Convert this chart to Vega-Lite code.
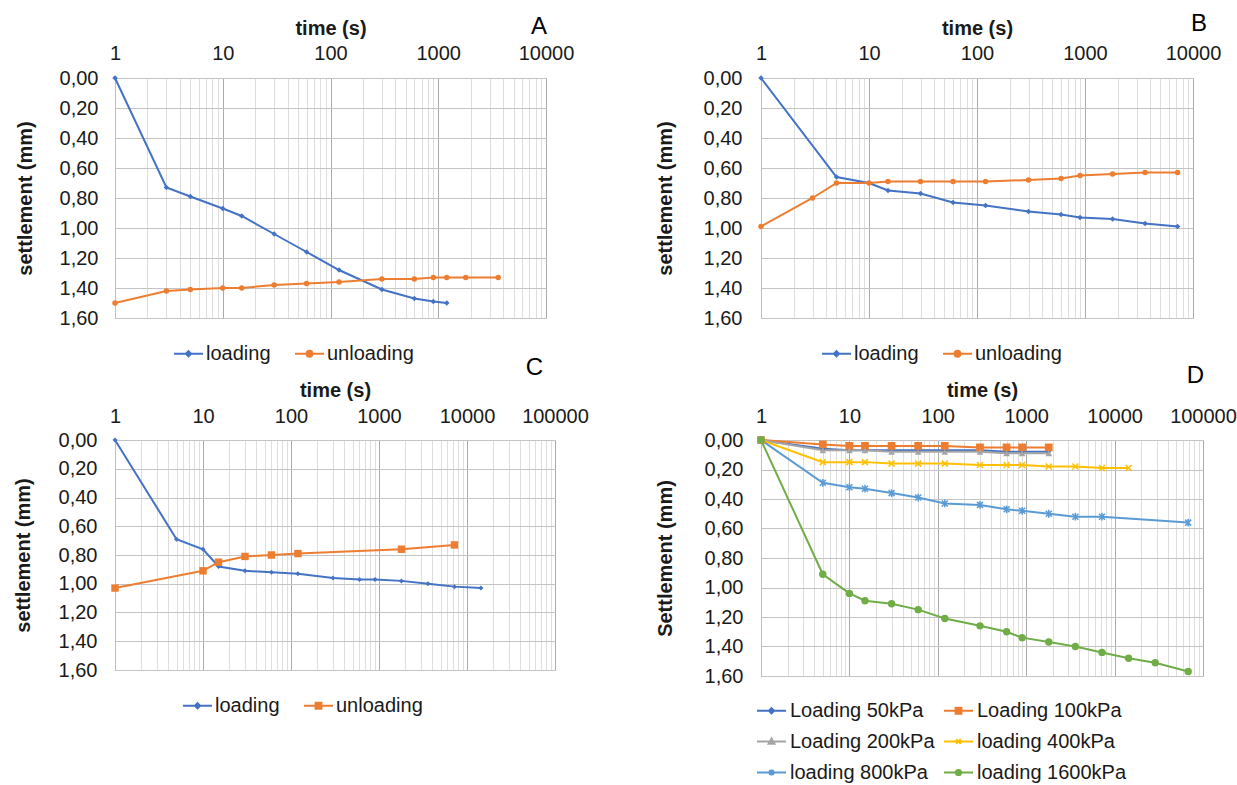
{
  "$schema": "https://vega.github.io/schema/vega-lite/v6.json",
  "padding": {"left": 12, "top": 11, "right": 0, "bottom": 0},
  "background": "white",
  "config": {
    "font": "Liberation Sans",
    "view": {"stroke": "#d9d9d9"},
    "axis": {"labelFontSize": 20, "titleFontSize": 20, "titleFontWeight": "bold", "labelColor": "#1a1a1a", "titleColor": "#1a1a1a", "ticks": false, "domainColor": "#bfbfbf", "labelFont": "Liberation Sans", "titleFont": "Liberation Sans"},
    "legend": {"labelFontSize": 20, "labelFont": "Liberation Sans", "labelColor": "#1a1a1a", "padding": 0, "labelLimit": 300},
    "title": {"font": "Liberation Sans", "fontSize": 24, "fontWeight": "normal", "color": "#000", "anchor": "end", "baseline": "alphabetic", "frame": "group"}
  },
  "columns": 2,
  "spacing": {"row": 122, "column": 204},
  "bounds": "flush",
  "align": "all",
  "resolve": {"scale": {"color": "independent", "x": "independent", "y": "independent"}, "legend": {"color": "independent"}},
  "concat": [
    {
      "width": 431, "height": 240,
      "title": {"text": "A", "offset": -21, "dx": 1},
      "data": {"values": [
        {"t": 1, "s": 0.00, "series": "loading"}, {"t": 3, "s": 0.73, "series": "loading"}, {"t": 5, "s": 0.79, "series": "loading"}, {"t": 10, "s": 0.87, "series": "loading"}, {"t": 15, "s": 0.92, "series": "loading"}, {"t": 30, "s": 1.04, "series": "loading"}, {"t": 60, "s": 1.16, "series": "loading"}, {"t": 120, "s": 1.28, "series": "loading"}, {"t": 300, "s": 1.41, "series": "loading"}, {"t": 600, "s": 1.47, "series": "loading"}, {"t": 900, "s": 1.49, "series": "loading"}, {"t": 1200, "s": 1.50, "series": "loading"},
        {"t": 1, "s": 1.50, "series": "unloading"}, {"t": 3, "s": 1.42, "series": "unloading"}, {"t": 5, "s": 1.41, "series": "unloading"}, {"t": 10, "s": 1.40, "series": "unloading"}, {"t": 15, "s": 1.40, "series": "unloading"}, {"t": 30, "s": 1.38, "series": "unloading"}, {"t": 60, "s": 1.37, "series": "unloading"}, {"t": 120, "s": 1.36, "series": "unloading"}, {"t": 300, "s": 1.34, "series": "unloading"}, {"t": 600, "s": 1.34, "series": "unloading"}, {"t": 900, "s": 1.33, "series": "unloading"}, {"t": 1200, "s": 1.33, "series": "unloading"}, {"t": 1800, "s": 1.33, "series": "unloading"}, {"t": 3600, "s": 1.33, "series": "unloading"}
      ]},
      "encoding": {
        "x": {"field": "t", "type": "quantitative", "scale": {"type": "log", "domain": [1, 10000]},
          "axis": {"orient": "top", "title": "time (s)", "values": [1,2,3,4,5,6,7,8,9,10,20,30,40,50,60,70,80,90,100,200,300,400,500,600,700,800,900,1000,2000,3000,4000,5000,6000,7000,8000,9000,10000],
            "labelExpr": "indexof([1,10,100,1000,10000,100000], datum.value) >= 0 ? format(datum.value, 'd') : ''", "labelOverlap": false, "labelFlush": false, "labelPadding": 15, "titlePadding": 5, "domain": false, "grid": true,
            "gridColor": {"condition": {"test": "indexof([1,10,100,1000,10000,100000], datum.value) >= 0", "value": "#ababab"}, "value": "#dedede"}}},
        "y": {"field": "s", "type": "quantitative", "scale": {"domain": [0, 1.6], "reverse": true, "nice": false},
          "axis": {"title": "settlement (mm)", "values": [0,0.2,0.4,0.6,0.8,1,1.2,1.4,1.6], "labelExpr": "replace(format(datum.value, '.2f'), '.', ',')", "labelPadding": 17, "titlePadding": 24, "grid": true, "gridColor": "#c4c4c4"}}
      },
      "layer": [
        {"mark": {"type": "line", "strokeWidth": 2},
          "encoding": {"color": {"field": "series", "type": "nominal", "scale": {"domain": ["loading", "unloading"], "range": ["#4472C4", "#ED7D31"]},
            "legend": {"orient": "none", "legendX": 58, "legendY": 260, "direction": "horizontal", "title": null, "symbolSize": 841, "columnPadding": 20, "labelOffset": 2,
              "encode": {"symbols": {"update": {
                "shape": {"signal": "datum.value == 'loading' ? 'M-1,0H1M0,-0.18L0.18,0L0,0.18L-0.18,0Z' : 'M-1,0H1M0.2,0A0.2,0.2 0 1,1 -0.2,0A0.2,0.2 0 1,1 0.2,0Z'"},
                "fill": {"signal": "datum.value == 'loading' ? '#4472C4' : '#ED7D31'"},
                "stroke": {"signal": "datum.value == 'loading' ? '#4472C4' : '#ED7D31'"},
                "strokeWidth": {"value": 2}, "opacity": {"value": 1}, "size": {"value": 841}}}}}}}},
        {"transform": [{"filter": "datum.series == 'loading'"}], "mark": {"type": "point", "shape": "diamond", "filled": true, "opacity": 1, "size": 30, "color": "#4472C4"}},
        {"transform": [{"filter": "datum.series == 'unloading'"}], "mark": {"type": "point", "shape": "circle", "filled": true, "opacity": 1, "size": 30, "color": "#ED7D31"}}
      ]
    },
    {
      "width": 432, "height": 240,
      "title": {"text": "B", "offset": -18, "dx": 14},
      "data": {"values": [
        {"t": 1, "s": 0.00, "series": "loading"}, {"t": 5, "s": 0.66, "series": "loading"}, {"t": 10, "s": 0.70, "series": "loading"}, {"t": 15, "s": 0.75, "series": "loading"}, {"t": 30, "s": 0.77, "series": "loading"}, {"t": 60, "s": 0.83, "series": "loading"}, {"t": 120, "s": 0.85, "series": "loading"}, {"t": 300, "s": 0.89, "series": "loading"}, {"t": 600, "s": 0.91, "series": "loading"}, {"t": 900, "s": 0.93, "series": "loading"}, {"t": 1800, "s": 0.94, "series": "loading"}, {"t": 3600, "s": 0.97, "series": "loading"}, {"t": 7200, "s": 0.99, "series": "loading"},
        {"t": 1, "s": 0.99, "series": "unloading"}, {"t": 3, "s": 0.80, "series": "unloading"}, {"t": 5, "s": 0.70, "series": "unloading"}, {"t": 10, "s": 0.70, "series": "unloading"}, {"t": 15, "s": 0.69, "series": "unloading"}, {"t": 30, "s": 0.69, "series": "unloading"}, {"t": 60, "s": 0.69, "series": "unloading"}, {"t": 120, "s": 0.69, "series": "unloading"}, {"t": 300, "s": 0.68, "series": "unloading"}, {"t": 600, "s": 0.67, "series": "unloading"}, {"t": 900, "s": 0.65, "series": "unloading"}, {"t": 1800, "s": 0.64, "series": "unloading"}, {"t": 3600, "s": 0.63, "series": "unloading"}, {"t": 7200, "s": 0.63, "series": "unloading"}
      ]},
      "encoding": {
        "x": {"field": "t", "type": "quantitative", "scale": {"type": "log", "domain": [1, 10000]},
          "axis": {"orient": "top", "title": "time (s)", "values": [1,2,3,4,5,6,7,8,9,10,20,30,40,50,60,70,80,90,100,200,300,400,500,600,700,800,900,1000,2000,3000,4000,5000,6000,7000,8000,9000,10000],
            "labelExpr": "indexof([1,10,100,1000,10000,100000], datum.value) >= 0 ? format(datum.value, 'd') : ''", "labelOverlap": false, "labelFlush": false, "labelPadding": 15, "titlePadding": 5, "domain": false, "grid": true,
            "gridColor": {"condition": {"test": "indexof([1,10,100,1000,10000,100000], datum.value) >= 0", "value": "#ababab"}, "value": "#dedede"}}},
        "y": {"field": "s", "type": "quantitative", "scale": {"domain": [0, 1.6], "reverse": true, "nice": false},
          "axis": {"title": "settlement (mm)", "values": [0,0.2,0.4,0.6,0.8,1,1.2,1.4,1.6], "labelExpr": "replace(format(datum.value, '.2f'), '.', ',')", "labelPadding": 19, "titlePadding": 28, "grid": true, "gridColor": "#c4c4c4"}}
      },
      "layer": [
        {"mark": {"type": "line", "strokeWidth": 2},
          "encoding": {"color": {"field": "series", "type": "nominal", "scale": {"domain": ["loading", "unloading"], "range": ["#4472C4", "#ED7D31"]},
            "legend": {"orient": "none", "legendX": 60, "legendY": 260, "direction": "horizontal", "title": null, "symbolSize": 841, "columnPadding": 20, "labelOffset": 2,
              "encode": {"symbols": {"update": {
                "shape": {"signal": "datum.value == 'loading' ? 'M-1,0H1M0,-0.18L0.18,0L0,0.18L-0.18,0Z' : 'M-1,0H1M0.2,0A0.2,0.2 0 1,1 -0.2,0A0.2,0.2 0 1,1 0.2,0Z'"},
                "fill": {"signal": "datum.value == 'loading' ? '#4472C4' : '#ED7D31'"},
                "stroke": {"signal": "datum.value == 'loading' ? '#4472C4' : '#ED7D31'"},
                "strokeWidth": {"value": 2}, "opacity": {"value": 1}, "size": {"value": 841}}}}}}}},
        {"transform": [{"filter": "datum.series == 'loading'"}], "mark": {"type": "point", "shape": "diamond", "filled": true, "opacity": 1, "size": 30, "color": "#4472C4"}},
        {"transform": [{"filter": "datum.series == 'unloading'"}], "mark": {"type": "point", "shape": "circle", "filled": true, "opacity": 1, "size": 30, "color": "#ED7D31"}}
      ]
    },
    {
      "width": 440, "height": 230,
      "title": {"text": "C", "offset": 0, "dx": -12},
      "data": {"values": [
        {"t": 1, "s": 0.00, "series": "loading"}, {"t": 5, "s": 0.69, "series": "loading"}, {"t": 10, "s": 0.76, "series": "loading"}, {"t": 15, "s": 0.88, "series": "loading"}, {"t": 30, "s": 0.91, "series": "loading"}, {"t": 60, "s": 0.92, "series": "loading"}, {"t": 120, "s": 0.93, "series": "loading"}, {"t": 300, "s": 0.96, "series": "loading"}, {"t": 600, "s": 0.97, "series": "loading"}, {"t": 900, "s": 0.97, "series": "loading"}, {"t": 1800, "s": 0.98, "series": "loading"}, {"t": 3600, "s": 1.00, "series": "loading"}, {"t": 7200, "s": 1.02, "series": "loading"}, {"t": 14400, "s": 1.03, "series": "loading"},
        {"t": 1, "s": 1.03, "series": "unloading"}, {"t": 10, "s": 0.91, "series": "unloading"}, {"t": 15, "s": 0.85, "series": "unloading"}, {"t": 30, "s": 0.81, "series": "unloading"}, {"t": 60, "s": 0.80, "series": "unloading"}, {"t": 120, "s": 0.79, "series": "unloading"}, {"t": 1800, "s": 0.76, "series": "unloading"}, {"t": 7200, "s": 0.73, "series": "unloading"}
      ]},
      "encoding": {
        "x": {"field": "t", "type": "quantitative", "scale": {"type": "log", "domain": [1, 100000]},
          "axis": {"orient": "top", "title": "time (s)", "values": [1,2,3,4,5,6,7,8,9,10,20,30,40,50,60,70,80,90,100,200,300,400,500,600,700,800,900,1000,2000,3000,4000,5000,6000,7000,8000,9000,10000,20000,30000,40000,50000,60000,70000,80000,90000,100000],
            "labelExpr": "indexof([1,10,100,1000,10000,100000], datum.value) >= 0 ? format(datum.value, 'd') : ''", "labelOverlap": false, "labelFlush": false, "labelPadding": 14, "titlePadding": 6, "domain": false, "grid": true,
            "gridColor": {"condition": {"test": "indexof([1,10,100,1000,10000,100000], datum.value) >= 0", "value": "#ababab"}, "value": "#dedede"}}},
        "y": {"field": "s", "type": "quantitative", "scale": {"domain": [0, 1.6], "reverse": true, "nice": false},
          "axis": {"title": "settlement (mm)", "values": [0,0.2,0.4,0.6,0.8,1,1.2,1.4,1.6], "labelExpr": "replace(format(datum.value, '.2f'), '.', ',')", "labelPadding": 18, "titlePadding": 25, "grid": true, "gridColor": "#c4c4c4"}}
      },
      "layer": [
        {"mark": {"type": "line", "strokeWidth": 2},
          "encoding": {"color": {"field": "series", "type": "nominal", "scale": {"domain": ["loading", "unloading"], "range": ["#4472C4", "#ED7D31"]},
            "legend": {"orient": "none", "legendX": 67, "legendY": 250, "direction": "horizontal", "title": null, "symbolSize": 841, "columnPadding": 20, "labelOffset": 2,
              "encode": {"symbols": {"update": {
                "shape": {"signal": "datum.value == 'loading' ? 'M-1,0H1M0,-0.18L0.18,0L0,0.18L-0.18,0Z' : 'M-1,0H1M-0.2,-0.2H0.2V0.2H-0.2Z'"},
                "fill": {"signal": "datum.value == 'loading' ? '#4472C4' : '#ED7D31'"},
                "stroke": {"signal": "datum.value == 'loading' ? '#4472C4' : '#ED7D31'"},
                "strokeWidth": {"value": 2}, "opacity": {"value": 1}, "size": {"value": 841}}}}}}}},
        {"transform": [{"filter": "datum.series == 'loading'"}], "mark": {"type": "point", "shape": "diamond", "filled": true, "opacity": 1, "size": 25, "color": "#4472C4"}},
        {"transform": [{"filter": "datum.series == 'unloading'"}], "mark": {"type": "point", "shape": "square", "filled": true, "opacity": 1, "size": 55, "color": "#ED7D31"}}
      ]
    },
    {
      "width": 442, "height": 236,
      "title": {"text": "D", "offset": -8, "dx": 1},
      "data": {"values": [
        {"t": 1, "s": 0, "series": "Loading 50kPa"}, {"t": 5, "s": 0.06, "series": "Loading 50kPa"}, {"t": 10, "s": 0.07, "series": "Loading 50kPa"}, {"t": 15, "s": 0.07, "series": "Loading 50kPa"}, {"t": 30, "s": 0.07, "series": "Loading 50kPa"}, {"t": 60, "s": 0.07, "series": "Loading 50kPa"}, {"t": 120, "s": 0.07, "series": "Loading 50kPa"}, {"t": 300, "s": 0.07, "series": "Loading 50kPa"}, {"t": 600, "s": 0.08, "series": "Loading 50kPa"}, {"t": 900, "s": 0.08, "series": "Loading 50kPa"}, {"t": 1800, "s": 0.08, "series": "Loading 50kPa"},
        {"t": 1, "s": 0, "series": "Loading 100kPa"}, {"t": 5, "s": 0.03, "series": "Loading 100kPa"}, {"t": 10, "s": 0.04, "series": "Loading 100kPa"}, {"t": 15, "s": 0.04, "series": "Loading 100kPa"}, {"t": 30, "s": 0.04, "series": "Loading 100kPa"}, {"t": 60, "s": 0.04, "series": "Loading 100kPa"}, {"t": 120, "s": 0.04, "series": "Loading 100kPa"}, {"t": 300, "s": 0.05, "series": "Loading 100kPa"}, {"t": 600, "s": 0.05, "series": "Loading 100kPa"}, {"t": 900, "s": 0.05, "series": "Loading 100kPa"}, {"t": 1800, "s": 0.05, "series": "Loading 100kPa"},
        {"t": 1, "s": 0, "series": "Loading 200kPa"}, {"t": 5, "s": 0.07, "series": "Loading 200kPa"}, {"t": 10, "s": 0.07, "series": "Loading 200kPa"}, {"t": 15, "s": 0.07, "series": "Loading 200kPa"}, {"t": 30, "s": 0.08, "series": "Loading 200kPa"}, {"t": 60, "s": 0.08, "series": "Loading 200kPa"}, {"t": 120, "s": 0.08, "series": "Loading 200kPa"}, {"t": 300, "s": 0.08, "series": "Loading 200kPa"}, {"t": 600, "s": 0.09, "series": "Loading 200kPa"}, {"t": 900, "s": 0.09, "series": "Loading 200kPa"}, {"t": 1800, "s": 0.09, "series": "Loading 200kPa"},
        {"t": 1, "s": 0, "series": "loading 400kPa"}, {"t": 5, "s": 0.15, "series": "loading 400kPa"}, {"t": 10, "s": 0.15, "series": "loading 400kPa"}, {"t": 15, "s": 0.15, "series": "loading 400kPa"}, {"t": 30, "s": 0.16, "series": "loading 400kPa"}, {"t": 60, "s": 0.16, "series": "loading 400kPa"}, {"t": 120, "s": 0.16, "series": "loading 400kPa"}, {"t": 300, "s": 0.17, "series": "loading 400kPa"}, {"t": 600, "s": 0.17, "series": "loading 400kPa"}, {"t": 900, "s": 0.17, "series": "loading 400kPa"}, {"t": 1800, "s": 0.18, "series": "loading 400kPa"}, {"t": 3600, "s": 0.18, "series": "loading 400kPa"}, {"t": 7200, "s": 0.19, "series": "loading 400kPa"}, {"t": 14400, "s": 0.19, "series": "loading 400kPa"},
        {"t": 1, "s": 0, "series": "loading 800kPa"}, {"t": 5, "s": 0.29, "series": "loading 800kPa"}, {"t": 10, "s": 0.32, "series": "loading 800kPa"}, {"t": 15, "s": 0.33, "series": "loading 800kPa"}, {"t": 30, "s": 0.36, "series": "loading 800kPa"}, {"t": 60, "s": 0.39, "series": "loading 800kPa"}, {"t": 120, "s": 0.43, "series": "loading 800kPa"}, {"t": 300, "s": 0.44, "series": "loading 800kPa"}, {"t": 600, "s": 0.47, "series": "loading 800kPa"}, {"t": 900, "s": 0.48, "series": "loading 800kPa"}, {"t": 1800, "s": 0.50, "series": "loading 800kPa"}, {"t": 3600, "s": 0.52, "series": "loading 800kPa"}, {"t": 7200, "s": 0.52, "series": "loading 800kPa"}, {"t": 68000, "s": 0.56, "series": "loading 800kPa"},
        {"t": 1, "s": 0, "series": "loading 1600kPa"}, {"t": 5, "s": 0.91, "series": "loading 1600kPa"}, {"t": 10, "s": 1.04, "series": "loading 1600kPa"}, {"t": 15, "s": 1.09, "series": "loading 1600kPa"}, {"t": 30, "s": 1.11, "series": "loading 1600kPa"}, {"t": 60, "s": 1.15, "series": "loading 1600kPa"}, {"t": 120, "s": 1.21, "series": "loading 1600kPa"}, {"t": 300, "s": 1.26, "series": "loading 1600kPa"}, {"t": 600, "s": 1.30, "series": "loading 1600kPa"}, {"t": 900, "s": 1.34, "series": "loading 1600kPa"}, {"t": 1800, "s": 1.37, "series": "loading 1600kPa"}, {"t": 3600, "s": 1.40, "series": "loading 1600kPa"}, {"t": 7200, "s": 1.44, "series": "loading 1600kPa"}, {"t": 14400, "s": 1.48, "series": "loading 1600kPa"}, {"t": 28800, "s": 1.51, "series": "loading 1600kPa"}, {"t": 68000, "s": 1.57, "series": "loading 1600kPa"}
      ]},
      "encoding": {
        "x": {"field": "t", "type": "quantitative", "scale": {"type": "log", "domain": [1, 100000]},
          "axis": {"orient": "top", "title": "time (s)", "values": [1,2,3,4,5,6,7,8,9,10,20,30,40,50,60,70,80,90,100,200,300,400,500,600,700,800,900,1000,2000,3000,4000,5000,6000,7000,8000,9000,10000,20000,30000,40000,50000,60000,70000,80000,90000,100000],
            "labelExpr": "indexof([1,10,100,1000,10000,100000], datum.value) >= 0 ? format(datum.value, 'd') : ''", "labelOverlap": false, "labelFlush": false, "labelPadding": 14, "titlePadding": 6, "domain": false, "grid": true,
            "gridColor": {"condition": {"test": "indexof([1,10,100,1000,10000,100000], datum.value) >= 0", "value": "#ababab"}, "value": "#dedede"}}},
        "y": {"field": "s", "type": "quantitative", "scale": {"domain": [0, 1.6], "reverse": true, "nice": false},
          "axis": {"title": "Settlement (mm)", "values": [0,0.2,0.4,0.6,0.8,1,1.2,1.4,1.6], "labelExpr": "replace(format(datum.value, '.2f'), '.', ',')", "labelPadding": 18, "titlePadding": 29, "grid": true, "gridColor": "#c4c4c4"}}
      },
      "layer": [
        {"mark": {"type": "line", "strokeWidth": 2},
          "encoding": {"color": {"field": "series", "type": "nominal", "scale": {"domain": ["Loading 50kPa", "Loading 100kPa", "Loading 200kPa", "loading 400kPa", "loading 800kPa", "loading 1600kPa"], "range": ["#4472C4", "#ED7D31", "#A5A5A5", "#FFC000", "#5B9BD5", "#70AD47"]},
            "legend": {"orient": "none", "legendX": -5, "legendY": 255, "direction": "horizontal", "columns": 2, "title": null, "symbolSize": 841, "columnPadding": 5, "rowPadding": 5, "labelOffset": 3,
              "encode": {"symbols": {"update": {
                "shape": {"signal": "['M-1,0H1M0,-0.18L0.18,0L0,0.18L-0.18,0Z', 'M-1,0H1M-0.2,-0.2H0.2V0.2H-0.2Z', 'M-1,0H1M0,-0.2L0.2,0.16H-0.2Z', 'M-1,0H1M-0.16,-0.16L0.16,0.16M-0.16,0.16L0.16,-0.16', 'M-1,0H1M-0.16,-0.16L0.16,0.16M-0.16,0.16L0.16,-0.16M0,-0.2V0.2', 'M-1,0H1M0.18,0A0.18,0.18 0 1,1 -0.18,0A0.18,0.18 0 1,1 0.18,0Z'][indexof(['Loading 50kPa', 'Loading 100kPa', 'Loading 200kPa', 'loading 400kPa', 'loading 800kPa', 'loading 1600kPa'], datum.value)]"},
                "fill": {"signal": "['#4472C4', '#ED7D31', '#A5A5A5', '#FFC000', '#5B9BD5', '#70AD47'][indexof(['Loading 50kPa', 'Loading 100kPa', 'Loading 200kPa', 'loading 400kPa', 'loading 800kPa', 'loading 1600kPa'], datum.value)]"},
                "stroke": {"signal": "['#4472C4', '#ED7D31', '#A5A5A5', '#FFC000', '#5B9BD5', '#70AD47'][indexof(['Loading 50kPa', 'Loading 100kPa', 'Loading 200kPa', 'loading 400kPa', 'loading 800kPa', 'loading 1600kPa'], datum.value)]"},
                "strokeWidth": {"value": 2}, "opacity": {"value": 1}, "size": {"value": 841}}}}}}}},
        {"transform": [{"filter": "datum.series == 'Loading 50kPa'"}], "mark": {"type": "point", "shape": "diamond", "filled": true, "opacity": 1, "size": 25, "color": "#4472C4"}},
        {"transform": [{"filter": "datum.series == 'Loading 100kPa'"}], "mark": {"type": "point", "shape": "square", "filled": true, "opacity": 1, "size": 60, "color": "#ED7D31"}},
        {"transform": [{"filter": "datum.series == 'Loading 200kPa'"}], "mark": {"type": "point", "shape": "triangle-up", "filled": true, "opacity": 1, "size": 45, "color": "#A5A5A5"}},
        {"transform": [{"filter": "datum.series == 'loading 400kPa'"}], "mark": {"type": "point", "shape": "M-1,-1L1,1M-1,1L1,-1", "filled": false, "opacity": 1, "size": 36, "strokeWidth": 1.5, "color": "#FFC000"}},
        {"transform": [{"filter": "datum.series == 'loading 800kPa'"}], "mark": {"type": "point", "shape": "M-1,-1L1,1M-1,1L1,-1M0,-1.3V1.3", "filled": false, "opacity": 1, "size": 36, "strokeWidth": 1.5, "color": "#5B9BD5"}},
        {"transform": [{"filter": "datum.series == 'loading 1600kPa'"}], "mark": {"type": "point", "shape": "circle", "filled": true, "opacity": 1, "size": 55, "color": "#70AD47"}}
      ]
    }
  ]
}
